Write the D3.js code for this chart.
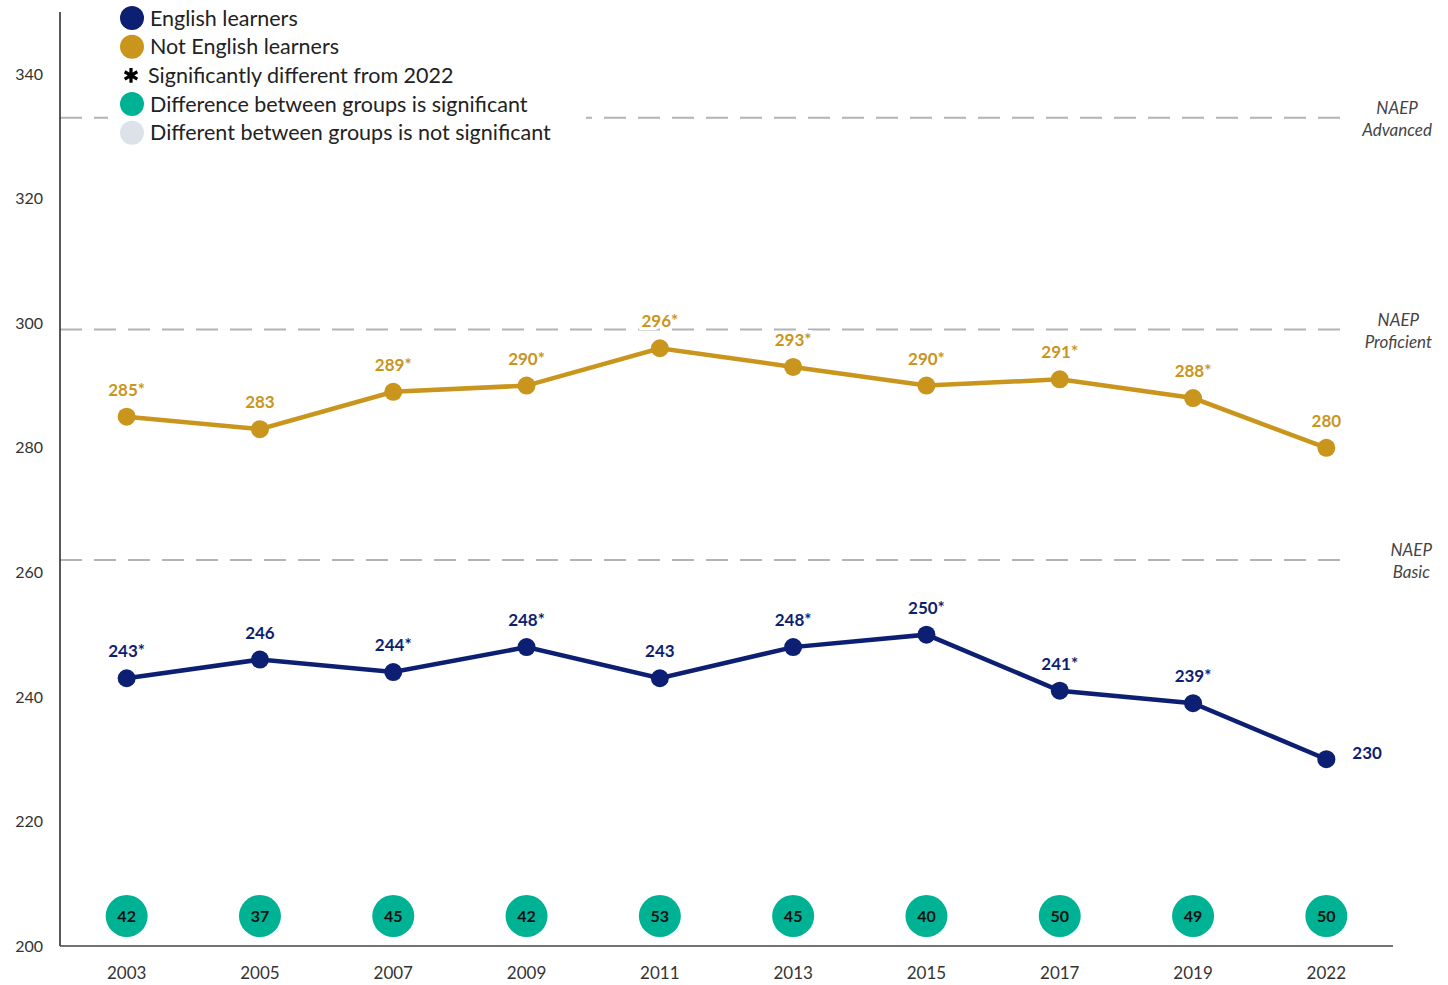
<!DOCTYPE html>
<html><head><meta charset="utf-8">
<script src="https://cdn.jsdelivr.net/npm/d3@7"></script>
<style>
html,body{margin:0;padding:0;background:#fff;}
svg{display:block;font-family:Lato,"Open Sans",sans-serif;}
</style></head>
<body><svg id="c" width="1448" height="985"></svg>
<script>
const years = ["2003","2005","2007","2009","2011","2013","2015","2017","2019","2022"];
const elValues = [243,246,244,248,243,248,250,241,239,230];
const elSig = [true,false,true,true,false,true,true,true,true,false];
const notElValues = [285,283,289,290,296,293,290,291,288,280];
const notElSig = [true,false,true,true,true,true,true,true,true,false];
const gapValues = [42,37,45,42,53,45,40,50,49,50];
const gapSig = [true,true,true,true,true,true,true,true,true,true];
const yTicks = [200,220,240,260,280,300,320,340];
const naepLevels = [{name:["NAEP","Advanced"],v:333},{name:["NAEP","Proficient"],v:299},{name:["NAEP","Basic"],v:262}];
const legendItems = [
  {type:"dot",color:"#0d1f73",label:"English learners"},
  {type:"dot",color:"#c9951c",label:"Not English learners"},
  {type:"star",color:"#000",label:"Significantly different from 2022"},
  {type:"dot",color:"#00b294",label:"Difference between groups is significant"},
  {type:"dot",color:"#dce2ea",label:"Different between groups is not significant"}
];
const NAVY="#0d1f73", GOLD="#c9951c", TEAL="#00b294", GREYL="#dce2ea";

const svg = d3.select("#c");
const pLeft=60, pRight=1393, pTop=12, pBottom=946;
const x = d3.scalePoint().domain(years).range([pLeft,pRight]).padding(0.5);
const y = d3.scaleLinear().domain([200,350]).range([pBottom,pTop]);

// NAEP dashed lines
naepLevels.forEach(l=>{
  svg.append("line").attr("x1",pLeft).attr("x2",1352).attr("y1",y(l.v)).attr("y2",y(l.v))
    .attr("stroke","#b3b3b3").attr("stroke-width",2).attr("stroke-dasharray","22,12");
  const t = svg.append("text").attr("class","naep").attr("y",y(l.v)-4)
    .attr("font-style","italic").attr("font-size",17).attr("fill","#444").attr("text-anchor","middle");
  t.append("tspan").attr("dy",0).text(l.name[0]);
  t.append("tspan").attr("dy",22).text(l.name[1]);
  const tt=t.selectAll("tspan").nodes();
  const w = Math.max(tt[0].getComputedTextLength(), tt[1].getComputedTextLength());
  const cx = 1432 - w/2;
  t.selectAll("tspan").attr("x",cx);
});

// axes
svg.append("line").attr("x1",pLeft).attr("x2",pLeft).attr("y1",pTop).attr("y2",pBottom).attr("stroke","#222").attr("stroke-width",1.5);
svg.append("line").attr("x1",pLeft).attr("x2",pRight).attr("y1",pBottom).attr("y2",pBottom).attr("stroke","#444").attr("stroke-width",1.5);
svg.selectAll(".yt").data(yTicks).enter().append("text")
  .attr("x",43).attr("y",d=>y(d)).attr("dy","0.35em").attr("text-anchor","end")
  .attr("font-size",16).attr("fill","#333").text(d=>d);
svg.selectAll(".xt").data(years).enter().append("text")
  .attr("x",d=>x(d)).attr("y",973).attr("dy","0.35em").attr("text-anchor","middle")
  .attr("font-size",17).attr("fill","#333").text(d=>d);

// series
function drawSeries(vals, sig, color){
  const data = years.map((yr,i)=>({yr, v:vals[i], s:sig[i]}));
  svg.append("path").datum(data)
    .attr("d",d3.line().x(d=>x(d.yr)).y(d=>y(d.v)))
    .attr("fill","none").attr("stroke",color).attr("stroke-width",4.5);
  svg.selectAll(null).data(data).enter().append("circle")
    .attr("cx",d=>x(d.yr)).attr("cy",d=>y(d.v)).attr("r",9).attr("fill",color);
  const last = data.length-1;
  const side = (i)=> i===last && color===NAVY;
  svg.selectAll(null).data(data).enter().append("text")
    .attr("x",(d,i)=> side(i) ? x(d.yr)+26 : x(d.yr))
    .attr("y",(d,i)=> side(i) ? y(d.v)-6 : y(d.v)-27)
    .attr("dy","0.35em")
    .attr("text-anchor",(d,i)=> side(i) ? "start":"middle")
    .attr("font-size",17).attr("font-weight","bold").attr("fill",color)
    .attr("stroke","#fff").attr("stroke-width",6).attr("paint-order","stroke")
    .text(d=>d.v+(d.s?"*":""));
}
drawSeries(notElValues, notElSig, GOLD);
drawSeries(elValues, elSig, NAVY);

// gap circles
const gdata = years.map((yr,i)=>({yr,v:gapValues[i],s:gapSig[i]}));
svg.selectAll(null).data(gdata).enter().append("circle")
  .attr("cx",d=>x(d.yr)).attr("cy",916).attr("r",21).attr("fill",d=>d.s?TEAL:GREYL);
svg.selectAll(null).data(gdata).enter().append("text")
  .attr("x",d=>x(d.yr)).attr("y",916).attr("dy","0.35em").attr("text-anchor","middle")
  .attr("font-size",16).attr("font-weight","bold").attr("fill","#111").text(d=>d.v);

// legend
svg.append("rect").attr("x",108).attr("y",4).attr("width",478).attr("height",142).attr("fill","#fff");
const lg = svg.selectAll(".lg").data(legendItems).enter().append("g")
  .attr("transform",(d,i)=>`translate(132,${18+i*28.7})`);
lg.filter(d=>d.type==="dot").append("circle").attr("r",12).attr("fill",d=>d.color);
lg.filter(d=>d.type==="star").append("path")
  .attr("d",d3.symbol(d3.symbolAsterisk,150)()).attr("transform","translate(-1,0)")
  .attr("stroke","#000").attr("stroke-width",3.2);
lg.append("text").attr("x",d=>d.type==="star"?16:18).attr("dy","0.35em").attr("font-size",21.5).attr("fill","#222").text(d=>d.label);
</script></body></html>
